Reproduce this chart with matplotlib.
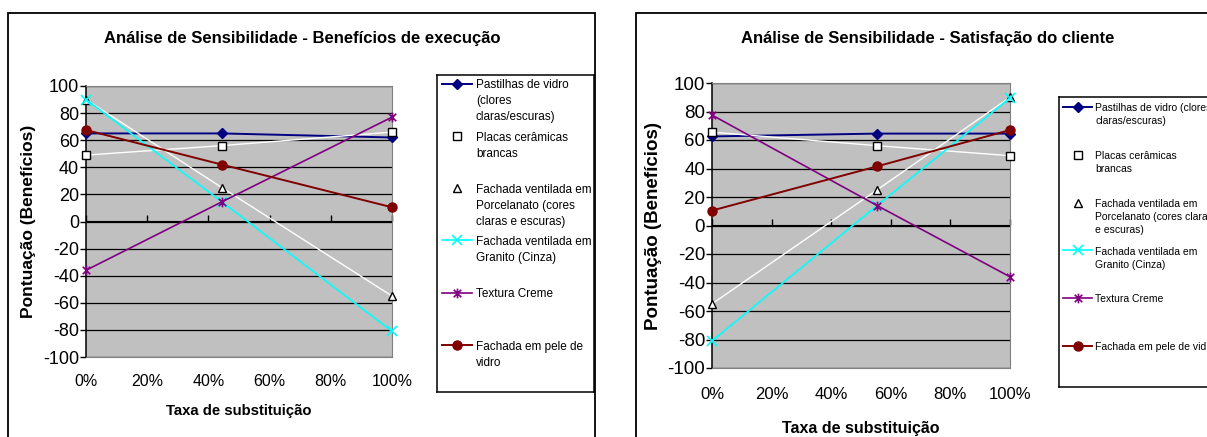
import matplotlib.pyplot as plt
from matplotlib.patches import Rectangle
from matplotlib.path import Path
from matplotlib.ticker import FuncFormatter, MultipleLocator, NullFormatter

plt.rcParams['font.family'] = ['Liberation Sans', 'DejaVu Sans']
plt.rcParams['axes.unicode_minus'] = False

W, H = 1207, 437

# --- data -------------------------------------------------------------
series_names = ["Pastilhas de vidro (clores claras/escuras)", "Placas cerâmicas brancas",
                "Fachada ventilada em Porcelanato (cores claras e escuras)",
                "Fachada ventilada em Granito (Cinza)", "Textura Creme",
                "Fachada em pele de vidro"]

x_exec = [0.0, 0.444, 1.0]
exec_pastilhas = [65, 65, 62]
exec_placas = [49, 56, 66]
exec_porcelanato = [90, 25, -55]
exec_granito = [90, 14.5, -81]
exec_textura = [-36, 14.5, 77]
exec_pele = [67.5, 42, 10.5]

x_sat = [0.0, 0.554, 1.0]
sat_pastilhas = [62.5, 64.5, 64.5]
sat_placas = [65.5, 56, 49]
sat_porcelanato = [-55, 25, 90]
sat_granito = [-81, 14, 89.5]
sat_textura = [77.5, 14, -36]
sat_pele = [10.5, 41.5, 67]

legend_exec = ["Pastilhas de vidro\n(clores\nclaras/escuras)", "Placas cerâmicas\nbrancas",
               "Fachada ventilada em\nPorcelanato (cores\nclaras e escuras)",
               "Fachada ventilada em\nGranito (Cinza)", "Textura Creme",
               "Fachada em pele de\nvidro"]
legend_sat = ["Pastilhas de vidro (clores\nclaras/escuras)", "Placas cerâmicas\nbrancas",
              "Fachada ventilada em\nPorcelanato (cores claras\ne escuras)",
              "Fachada ventilada em\nGranito (Cinza)", "Textura Creme",
              "Fachada em pele de vidro"]

# --- styles -----------------------------------------------------------
star = Path([(-1, -1), (1, 1), (-1, 1), (1, -1), (0, -1.3), (0, 1.3)],
            [Path.MOVETO, Path.LINETO, Path.MOVETO, Path.LINETO, Path.MOVETO, Path.LINETO])
styles = [
    dict(color='#000080', marker='D', ms=5, mfc='#000080', mec='#000080', lw=1.4),
    dict(color='white', marker='s', ms=5.5, mfc='white', mec='black', mew=1.0, lw=1.0),
    dict(color='white', marker='^', ms=6, mfc='white', mec='black', mew=1.0, lw=1.0),
    dict(color='#00FFFF', marker='x', ms=7, mec='#00FFFF', mew=1.2, lw=1.2),
    dict(color='#800080', marker=star, ms=7, mfc='none', mec='#800080', mew=1.2, lw=1.2),
    dict(color='#800000', marker='o', ms=6.5, mfc='#800000', mec='#800000', lw=1.4),
]


def px_box(x0, y0, x1, y1):
    return [x0 / W, 1 - y1 / H, (x1 - x0) / W, (y1 - y0) / H]


fig = plt.figure(figsize=(W / 100, H / 100), dpi=100)


def draw_chart(frame, title, title_xy, plot_box, xs, ys_list, cfg, leg_box, leg_labels, leg_cfg):
    fig.add_artist(Rectangle((frame[0] / W, 1 - frame[3] / H),
                             (frame[2] - frame[0]) / W, (frame[3] - frame[1]) / H,
                             transform=fig.transFigure, fill=False, ec='black', lw=1.3))
    fig.text(title_xy[0] / W, 1 - title_xy[1] / H, title, ha='center', va='center',
             fontsize=cfg['title'], fontweight='bold')

    ax = fig.add_axes(px_box(*plot_box))
    ax.set_facecolor('#C0C0C0')
    ax.set_xlim(0, 1)
    ax.set_ylim(-100, 100)
    ax.set_axisbelow(True)
    ax.yaxis.set_major_locator(MultipleLocator(20))
    ax.yaxis.grid(True, color='black', lw=0.9)
    ax.xaxis.set_major_locator(MultipleLocator(0.2))
    ax.xaxis.set_major_formatter(FuncFormatter(lambda v, p: f"{v * 100:.0f}%"))
    ax.tick_params(axis='x', length=0, pad=cfg['xpad'], labelsize=cfg['xtick'])
    ax.tick_params(axis='y', length=4, width=1, pad=1, labelsize=cfg['ytick'])
    for s in ['top', 'right', 'bottom']:
        ax.spines[s].set_color('#808080')
    ax.spines['left'].set_color('black')
    ax.spines['left'].set_linewidth(1.1)

    # category axis crossing at zero, tick marks only
    sec = ax.secondary_xaxis(0.5)
    sec.xaxis.set_major_locator(MultipleLocator(0.2))
    sec.xaxis.set_major_formatter(NullFormatter())
    sec.tick_params(axis='x', direction='out', length=4, width=1)
    sec.spines['bottom'].set_color('black')

    for ys, st in zip(ys_list, styles):
        ax.plot(xs, ys, clip_on=False, zorder=3, **st)

    ax.set_xlabel("Taxa de substituição", fontsize=cfg['xlabel'], fontweight='bold',
                  labelpad=cfg['xlabelpad'])
    ax.set_ylabel("Pontuação (Benefícios)", fontsize=cfg['ylabel'], fontweight='bold',
                  labelpad=cfg['ylabelpad'])

    # legend box
    lw_px = leg_box[2] - leg_box[0]
    lh_px = leg_box[3] - leg_box[1]
    lg = fig.add_axes(px_box(*leg_box))
    lg.set_xlim(0, lw_px)
    lg.set_ylim(lh_px, 0)
    lg.set_xticks([])
    lg.set_yticks([])
    for s in lg.spines.values():
        s.set_color('black')
        s.set_linewidth(1.1)
    h0, h1, tx, y0, dy = leg_cfg
    fs_px = cfg['legend'] * 100 / 72
    for i, (lab, st) in enumerate(zip(leg_labels, styles)):
        y = y0 + i * dy
        lg.plot([h0, (h0 + h1) / 2, h1], [y, y, y], markevery=[1], **st)
        lg.text(tx, y - 0.36 * fs_px, lab, va='top', ha='left', fontsize=cfg['legend'],
                linespacing=cfg['legsp'], clip_on=True)


exec_series = [exec_pastilhas, exec_placas, exec_porcelanato, exec_granito, exec_textura, exec_pele]
sat_series = [sat_pastilhas, sat_placas, sat_porcelanato, sat_granito, sat_textura, sat_pele]

draw_chart((8, 13, 595, 450), "Análise de Sensibilidade - Benefícios de execução", (302, 39),
           (86, 86, 392, 357), x_exec, exec_series,
           dict(title=12, xtick=11.5, ytick=13, xpad=12, xlabel=10.7, xlabelpad=11,
                ylabel=12.5, ylabelpad=5, legend=8.5, legsp=1.45),
           (437, 75, 594, 392), legend_exec, (5, 35, 39, 8.5, 52.3))

draw_chart((636, 13, 1230, 450), "Análise de Sensibilidade - Satisfação do cliente", (928, 39),
           (712, 83, 1010, 368), x_sat, sat_series,
           dict(title=12, xtick=12, ytick=13.5, xpad=14, xlabel=11.5, xlabelpad=13,
                ylabel=13.5, ylabelpad=4, legend=7.5, legsp=1.4),
           (1059, 97, 1230, 387), legend_sat, (4, 33, 36, 10, 47.8))

fig.savefig("out.png", dpi=100)
